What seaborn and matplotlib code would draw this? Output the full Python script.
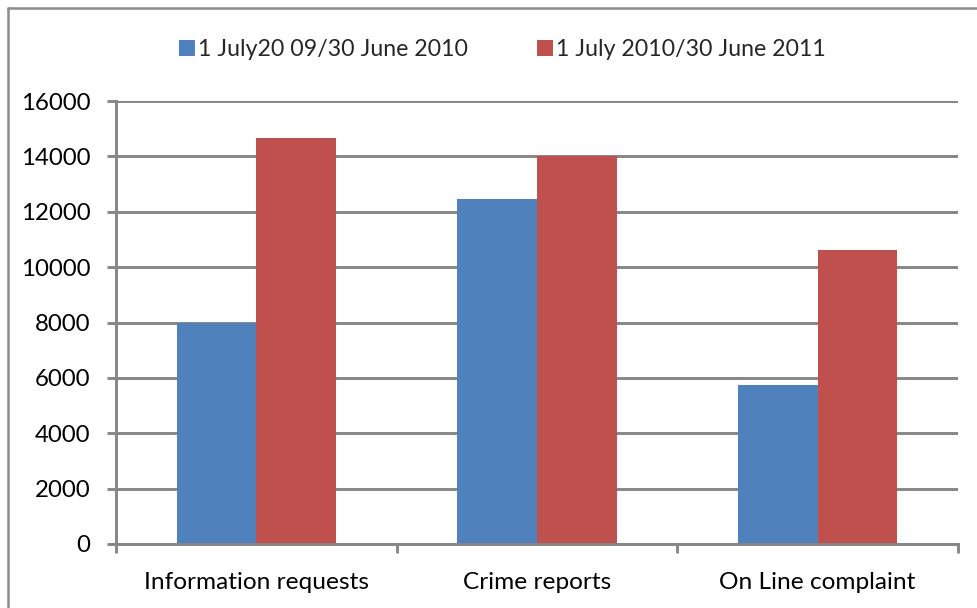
import matplotlib
matplotlib.use("Agg")
import matplotlib.pyplot as plt
import seaborn as sns
import pandas as pd
from matplotlib.lines import Line2D

categories = ["Information requests", "Crime reports", "On Line complaint"]
series_names = ["1 July20 09/30 June 2010", "1 July 2010/30 June 2011"]
values_2009_10 = [7990, 12450, 5735]
values_2010_11 = [14660, 14020, 10610]
y_ticks = [0, 2000, 4000, 6000, 8000, 10000, 12000, 14000, 16000]

colors = ["#4F81BD", "#C0504D"]
grid_gray = "#868686"

df = pd.DataFrame({
    "category": categories * 2,
    "period": [series_names[0]] * 3 + [series_names[1]] * 3,
    "count": values_2009_10 + values_2010_11,
})

sns.set_theme(style="white")
plt.rcParams["font.family"] = ["Lato", "DejaVu Sans"]

W, H, DPI = 978, 608, 100
fig = plt.figure(figsize=(W / DPI, H / DPI), dpi=DPI)
fig.patch.set_facecolor("white")

ax_left, ax_right, ax_top, ax_bottom = 116, 958, 101, 544
ax = fig.add_axes([ax_left / W, 1 - ax_bottom / H,
                   (ax_right - ax_left) / W, (ax_bottom - ax_top) / H])

sns.barplot(data=df, x="category", y="count", hue="period",
            order=categories, hue_order=series_names, palette=colors,
            width=0.568, linewidth=0, saturation=1, ax=ax, legend=False)

ax.set_xlim(-0.5, 2.5)
ax.set_ylim(0, 16000)
ax.set_xlabel("")
ax.set_ylabel("")

# horizontal gridlines
ax.set_axisbelow(True)
ax.set_yticks(y_ticks)
ax.set_yticklabels([str(v) for v in y_ticks])
ax.yaxis.grid(True, color=grid_gray, linewidth=2.1)
ax.xaxis.grid(False)

# category boundaries carry the tick marks, labels sit at bar-group centres
ax.set_xticks([-0.5, 0.5, 1.5, 2.5])
ax.set_xticklabels([])
ax.set_xticks([0, 1, 2], minor=True)
ax.set_xticklabels(categories, minor=True)
ax.tick_params(axis="x", which="major", direction="out", length=6.5,
               width=2.1, color=grid_gray, bottom=True)
ax.tick_params(axis="x", which="minor", length=0, pad=20,
               labelsize=17.6, labelcolor="black")
ax.tick_params(axis="y", direction="out", length=6.5, width=2.1,
               color=grid_gray, left=True, pad=12, labelsize=17.3,
               labelcolor="black")

for side in ["top", "right"]:
    ax.spines[side].set_visible(False)
for side in ["left", "bottom"]:
    ax.spines[side].set_color(grid_gray)
    ax.spines[side].set_linewidth(2.1)

# legend across the top
handles = [Line2D([0], [0], marker="s", linestyle="none", markersize=11.5,
                  markerfacecolor=c, markeredgewidth=0) for c in colors]
fig.legend(handles, series_names, loc="center", ncol=2,
           bbox_to_anchor=(503 / W, 1 - 50 / H), frameon=False,
           fontsize=16.7, handlelength=0.6, handletextpad=0.2,
           columnspacing=3.0)

# outer chart frame
fig.add_artist(Line2D([8 / W, 8 / W], [1 - 8 / H, -0.05],
                      transform=fig.transFigure, color="#8c8c8c", linewidth=1.8))
fig.add_artist(Line2D([8 / W, 1.05], [1 - 8 / H, 1 - 8 / H],
                      transform=fig.transFigure, color="#8c8c8c", linewidth=1.8))

fig.savefig("out.png", dpi=DPI, facecolor="white")
